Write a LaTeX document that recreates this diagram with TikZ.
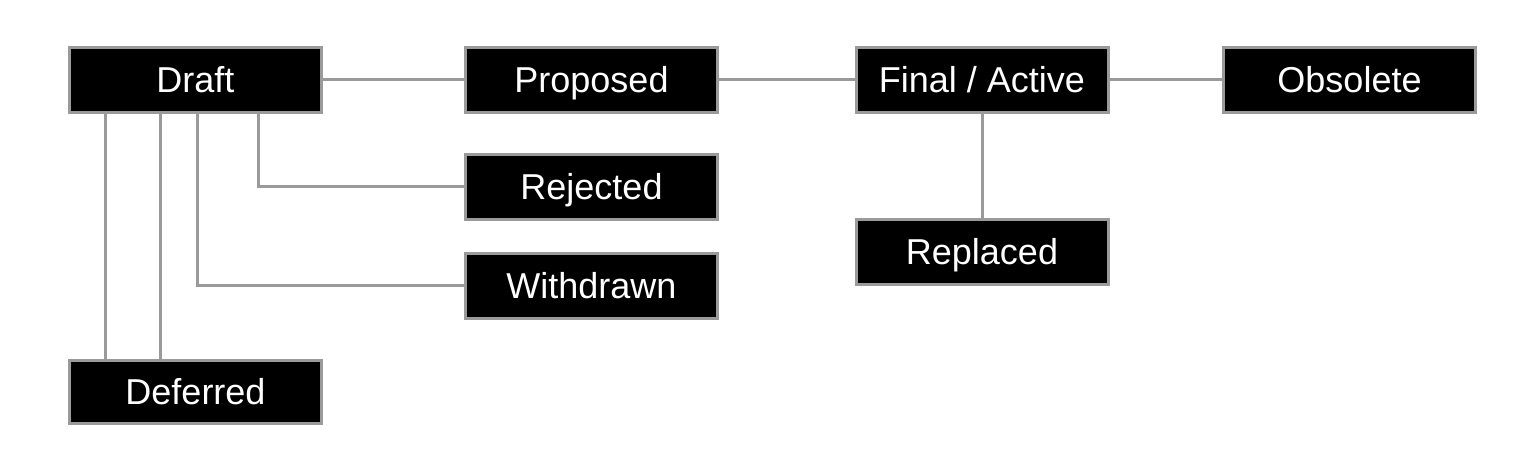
\documentclass[tikz,border=0pt]{standalone}
\usepackage{fontspec}
\setmainfont{Liberation Sans}
\definecolor{edgegray}{HTML}{9A9A9A}
\begin{document}
\begin{tikzpicture}[x=1pt,y=-1pt,
  statebox/.style={draw=edgegray, line width=3pt, fill=black, text=white,
    minimum width=252pt, minimum height=65pt, inner sep=0pt,
    text height=25pt, text depth=0pt,
    font=\fontsize{36}{40}\selectfont},
  link/.style={draw=edgegray, line width=3pt}]
\useasboundingbox (0,0) rectangle (1524,468);
\node[statebox] (draft) at (195.5,80) {Draft};
\node[statebox] (proposed) at (591.5,80) {Proposed};
\node[statebox] (final) at (982,80) {Final / Active};
\node[statebox] (obsolete) at (1349.5,80) {Obsolete};
\node[statebox] (rejected) at (591.5,187) {Rejected};
\node[statebox] (withdrawn) at (591.5,285.5) {Withdrawn};
\node[statebox] (replaced) at (982,252) {Replaced};
\node[statebox, minimum height=63pt] (deferred) at (195.5,392) {Deferred};
\draw[link] (draft.east) -- (proposed.west);
\draw[link] (proposed.east) -- (final.west);
\draw[link] (final.east) -- (obsolete.west);
\draw[link] (final.south) -- (replaced.north);
\draw[link] ([xshift=62.5pt]draft.south) |- (rejected.west);
\draw[link] ([xshift=1.5pt]draft.south) |- (withdrawn.west);
\draw[link] ([xshift=-35.5pt]draft.south) -- ([xshift=-35.5pt]draft.south |- deferred.north);
\draw[link] ([xshift=-90.5pt]draft.south) -- ([xshift=-90.5pt]draft.south |- deferred.north);
\end{tikzpicture}
\end{document}
